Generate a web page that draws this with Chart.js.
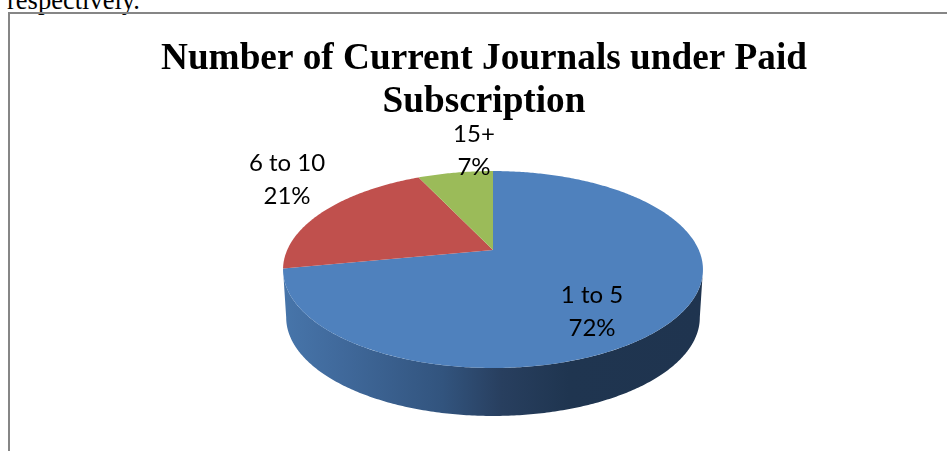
<!DOCTYPE html>
<html>
<head>
<meta charset="utf-8">
<script src="https://cdn.jsdelivr.net/npm/chart.js@4/dist/chart.umd.min.js"></script>
<style>
    html, body { margin: 0; padding: 0; background: #fff; overflow: hidden; }
    body { position: relative; width: 947px; height: 451px; }
    #leadIn {
        position: absolute; left: 7px; top: -15px; white-space: nowrap;
        font: 26.5px "Liberation Serif", serif; color: #000;
    }
    #frame {
        position: absolute; left: 8px; top: 12px; width: 1000px; height: 500px;
        border: 2px solid #868686; box-sizing: border-box;
    }
    canvas { position: absolute; left: 0; top: 0; }
</style>
</head>
<body>
<div id="leadIn">respectively.</div>
<div id="frame"></div>
<canvas id="journalsChart" width="947" height="451"></canvas>
<script>
const titleLines = ['Number of Current Journals under Paid', 'Subscription'];
const categories = ['1 to 5', '6 to 10', '15+'];
const shares = [72, 21, 7];
const sliceColors = ['#4f81bd', '#c0504d', '#9bbb59'];

// where each two line label is centred, relative to the pie apex
const labelOffsets = [[99, 60], [-206, -72], [-19, -101]];

// tilted disc: near side is bigger, so the apex sits above the ellipse centre
const tilt = { kx: 0.98, ky: 0.4505, persp: -0.198, depth: 48, shrink: 0.985, shiftX: 9 };

function project(arc, angle) {
    const u = Math.cos(angle), v = Math.sin(angle);
    const w = 1 + tilt.persp * v;
    return {
        x: arc.x + tilt.shiftX + arc.outerRadius * tilt.kx * u / w,
        y: arc.y + arc.outerRadius * tilt.ky * v / w
    };
}

function traceRim(ctx, arc, from, to, lift) {
    const steps = Math.max(2, Math.ceil(Math.abs(to - from) * 90));
    for (let i = 0; i <= steps; i++) {
        const p = project(arc, from + (to - from) * i / steps);
        const cx = arc.x + tilt.shiftX;
        if (lift) ctx.lineTo(cx + (p.x - cx) * tilt.shrink, p.y + tilt.depth);
        else ctx.lineTo(p.x, p.y);
    }
}

const tiltedPie = {
    id: 'tiltedPie',
    beforeDatasetDraw(chart, args) {
        const ctx = chart.ctx;
        const arcs = args.meta.data;
        const frontStart = Math.asin(-tilt.persp);
        const frontEnd = Math.PI - frontStart;

        // side wall first, only the part of each slice facing the viewer
        arcs.forEach((arc) => {
            const from = Math.max(arc.startAngle, frontStart);
            const to = Math.min(arc.endAngle, frontEnd);
            if (to <= from) return;
            const left = arc.x + tilt.shiftX - arc.outerRadius;
            const g = ctx.createLinearGradient(left, 0, left + arc.outerRadius * 2, 0);
            g.addColorStop(0, '#4775aa');
            g.addColorStop(0.14, '#40699b');
            g.addColorStop(0.38, '#32547e');
            g.addColorStop(0.52, '#283f5f');
            g.addColorStop(0.68, '#1f3550');
            g.addColorStop(1, '#1f344f');
            ctx.beginPath();
            traceRim(ctx, arc, from, to, false);
            traceRim(ctx, arc, to, from, true);
            ctx.closePath();
            ctx.fillStyle = g;
            ctx.fill();
        });

        // top face
        arcs.forEach((arc) => {
            ctx.beginPath();
            ctx.moveTo(arc.x + tilt.shiftX, arc.y);
            traceRim(ctx, arc, arc.startAngle, arc.endAngle, false);
            ctx.closePath();
            ctx.fillStyle = arc.options.backgroundColor;
            ctx.fill();
        });
        return false;
    },
    afterDatasetsDraw(chart) {
        const ctx = chart.ctx;
        const arcs = chart.getDatasetMeta(0).data;
        ctx.save();
        ctx.font = '24px Lato, sans-serif';
        ctx.fillStyle = '#000';
        ctx.textAlign = 'center';
        ctx.textBaseline = 'middle';
        arcs.forEach((arc, i) => {
            const x = arc.x + tilt.shiftX + labelOffsets[i][0];
            const y = arc.y + labelOffsets[i][1] + 1.5;
            ctx.fillText(categories[i], x, y - 16.5);
            ctx.fillText(shares[i] + '%', x, y + 16.5);
        });
        ctx.restore();
    }
};

new Chart(document.getElementById('journalsChart'), {
    type: 'pie',
    data: {
        labels: categories,
        datasets: [{
            data: shares,
            backgroundColor: sliceColors,
            borderWidth: 0,
            radius: 210
        }]
    },
    plugins: [tiltedPie],
    options: {
        responsive: false,
        animation: false,
        layout: { padding: { left: 21, bottom: 75 } },
        plugins: {
            legend: { display: false },
            tooltip: { enabled: false },
            title: {
                display: true,
                text: titleLines,
                color: '#000',
                font: { family: '"Liberation Serif", serif', size: 37.25, weight: 'bold', lineHeight: 1.155 },
                padding: { top: 38, bottom: 0 }
            }
        }
    }
});
</script>
</body>
</html>
